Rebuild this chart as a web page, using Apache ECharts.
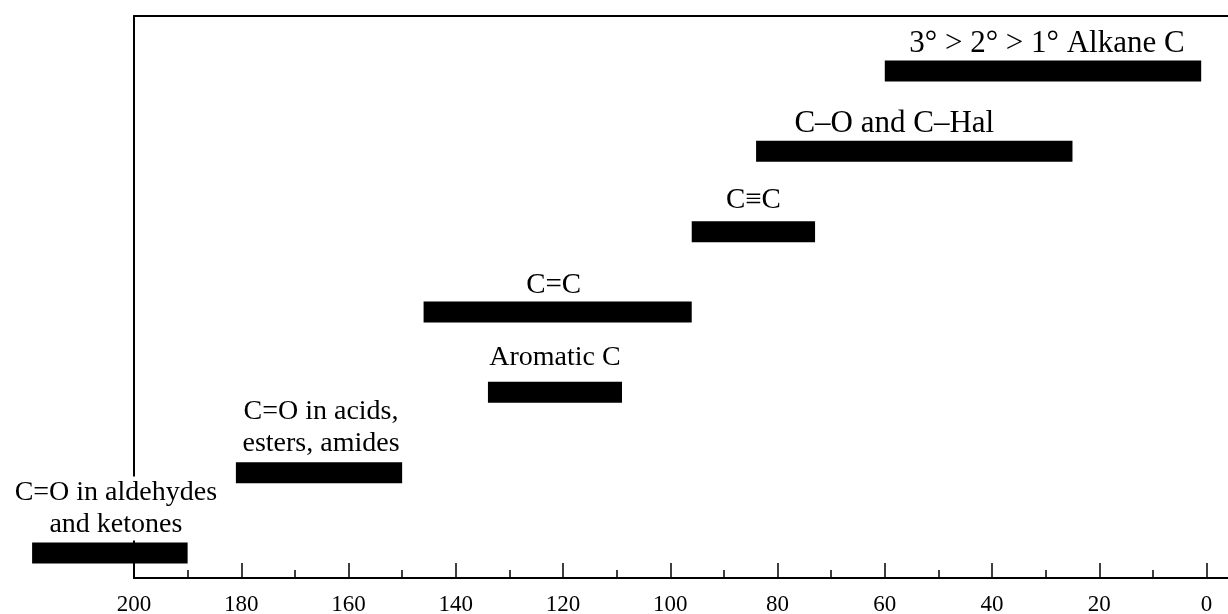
<!DOCTYPE html>
<html>
<head>
<meta charset="utf-8">
<script src="https://cdn.jsdelivr.net/npm/echarts@6.0.0/dist/echarts.min.js"></script>
<style>
  html, body { margin: 0; padding: 0; background: #fff; }
  #chart { width: 1228px; height: 614px; }
</style>
</head>
<body>
<div id="chart"></div>
<script>
// Carbon-13 chemical shift ranges (ppm)
const categories = [
  '3° > 2° > 1° Alkane C',
  'C–O and C–Hal',
  'C≡C',
  'C=C',
  'Aromatic C',
  'C=O in acids,\nesters, amides',
  'C=O in aldehydes\nand ketones'
];
const rangeStart = [60, 84, 96, 146, 134, 181, 219];
const rangeEnd   = [1, 25, 73, 96, 109, 150, 190];
const majorTicks = [200, 180, 160, 140, 120, 100, 80, 60, 40, 20, 0];
const minorTicks = [190, 170, 150, 130, 110, 90, 70, 50, 30, 10];

// label typography (style only)
const labelLook = {
  0: { fontSize: 31, dx: 4, gap: 1 },
  1: { fontSize: 31, dx: -20, gap: 1 },
  2: { fontSize: 29, dx: 0, gap: 5 },
  3: { fontSize: 29, dx: -4, gap: 0 },
  4: { fontSize: 28, dx: 0, gap: 8 },
  5: { fontSize: 28, dx: 2, gap: 3 },
  6: { fontSize: 28, dx: 6, gap: 2, bg: true }
};

const chart = echarts.init(document.getElementById('chart'), null, { renderer: 'canvas' });

const serif = '"Liberation Serif", "Times New Roman", serif';

function renderItem(params, api) {
  const s = api.value(0), e = api.value(1), idx = api.value(2);
  const p1 = api.coord([s, idx]);
  const p2 = api.coord([e, idx]);
  const h = 21;
  const x = Math.min(p1[0], p2[0]);
  const w = Math.abs(p2[0] - p1[0]);
  const top = p1[1] - h / 2;
  const look = labelLook[idx];
  const textStyle = {
    text: categories[idx],
    x: x + w / 2 + look.dx,
    y: top - look.gap,
    align: 'center',
    verticalAlign: 'bottom',
    fontSize: look.fontSize,
    fontFamily: serif,
    lineHeight: 32,
    fill: '#000'
  };
  if (look.bg) {
    textStyle.backgroundColor = '#fff';
    textStyle.padding = [0, 2, 0, 2];
  }
  return {
    type: 'group',
    children: [
      { type: 'rect', shape: { x: x, y: top, width: w, height: h }, style: { fill: '#000' } },
      { type: 'text', style: textStyle }
    ]
  };
}

const frameLine = { show: true, onZero: false, lineStyle: { color: '#000', width: 2 } };

const option = {
  backgroundColor: '#fff',
  animation: false,
  grid: [
    { left: 134, right: 0, top: 16, bottom: 36, containLabel: false, outerBoundsMode: 'none' },
    { left: 134, right: 0, top: 71, bottom: 61, containLabel: false, outerBoundsMode: 'none' }
  ],
  xAxis: [
    {
      gridIndex: 0, type: 'value', min: -4, max: 200, inverse: true, position: 'bottom',
      axisLine: frameLine,
      axisTick: { show: true, inside: true, length: 15, customValues: majorTicks, lineStyle: { color: '#000', width: 1.5 } },
      axisLabel: { show: true, customValues: majorTicks, margin: 15, color: '#000', fontSize: 23, fontFamily: serif },
      splitLine: { show: false }, minorTick: { show: false }
    },
    {
      gridIndex: 0, type: 'value', min: -4, max: 200, inverse: true, position: 'bottom', offset: 0,
      axisLine: { show: false, onZero: false },
      axisTick: { show: true, inside: true, length: 8, customValues: minorTicks, lineStyle: { color: '#000', width: 1.5 } },
      axisLabel: { show: false },
      splitLine: { show: false }
    },
    {
      gridIndex: 0, type: 'value', min: -4, max: 200, inverse: true, position: 'top',
      axisLine: frameLine,
      axisTick: { show: false }, axisLabel: { show: false }, splitLine: { show: false }
    },
    {
      gridIndex: 1, type: 'value', min: -4, max: 200, inverse: true, show: false
    }
  ],
  yAxis: [
    {
      gridIndex: 0, type: 'value', min: 0, max: 1, position: 'left',
      axisLine: frameLine,
      axisTick: { show: false }, axisLabel: { show: false }, splitLine: { show: false }
    },
    {
      gridIndex: 1, type: 'category', data: categories, inverse: true, boundaryGap: false, show: false
    }
  ],
  series: [
    {
      type: 'custom',
      xAxisIndex: 3,
      yAxisIndex: 1,
      clip: false,
      z: 10,
      renderItem: renderItem,
      encode: { x: [0, 1], y: 2 },
      data: categories.map((c, i) => [rangeStart[i], rangeEnd[i], i])
    }
  ]
};

chart.setOption(option);
</script>
</body>
</html>
